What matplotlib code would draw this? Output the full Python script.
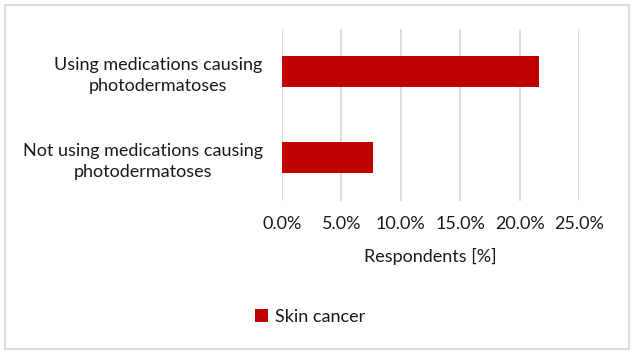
import matplotlib
matplotlib.use("Agg")
import matplotlib.pyplot as plt
from matplotlib.patches import Rectangle
from matplotlib.ticker import FuncFormatter

categories = ["Not using medications causing\nphotodermatoses",
              "Using medications causing\nphotodermatoses"]
values = [7.66, 21.66]
series_name = "Skin cancer"
xticks = [0, 5, 10, 15, 20, 25]

plt.rcParams['font.family'] = ['Lato', 'DejaVu Sans']
fig = plt.figure(figsize=(6.33, 3.53), dpi=100)
ax = fig.add_axes([282/633, 1-200.5/353, (579-282)/633, 172/353])

bar_color = "#c00000"
fs = 13
ax.barh(range(len(categories)), values, height=0.36, color=bar_color, label=series_name, zorder=3)
ax.set_ylim(-0.5, 1.5)
ax.set_xlim(0, 25)
ax.set_xticks(xticks)
ax.xaxis.set_major_formatter(FuncFormatter(lambda v, p: f"{v:.1f}%"))
ax.set_yticks(range(len(categories)))
ax.set_yticklabels(categories, multialignment='center', fontsize=fs, color="#1a1a1a", linespacing=1.35)
ax.tick_params(axis='both', length=0)
ax.tick_params(axis='x', labelsize=fs, labelcolor="#1a1a1a", pad=11)
ax.tick_params(axis='y', pad=14)
ax.grid(axis='x', color="#d9d9d9", linewidth=1.3, zorder=0)
for s in ax.spines.values():
    s.set_visible(False)
ax.set_xlabel("Respondents [%]", fontsize=fs, color="#1a1a1a", labelpad=12)

leg = fig.legend(loc='center', bbox_to_anchor=(0.49, 1-317/353), frameon=False,
                 fontsize=fs, handlelength=0.7, handleheight=0.7, handletextpad=0.4)
for t in leg.get_texts():
    t.set_color("#1a1a1a")

fig.patches.append(Rectangle((4.5/633, 4.5/353), 624/633, 344/353, transform=fig.transFigure,
                             fill=False, edgecolor="#d9d9d9", linewidth=1.3))
fig.savefig("out.png", dpi=100, facecolor="white")
